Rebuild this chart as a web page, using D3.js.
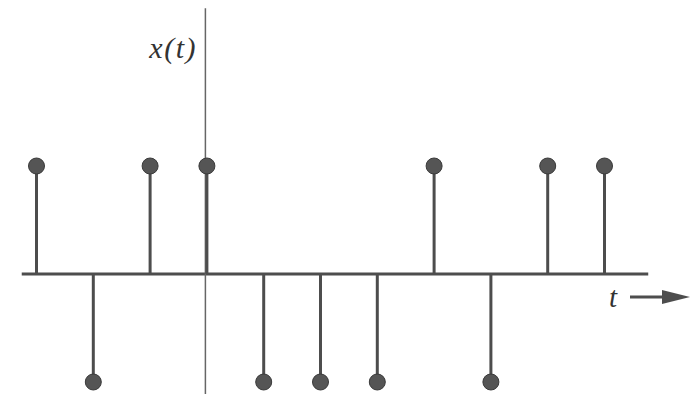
<!DOCTYPE html>
<html lang='en'>
<head>
    <title>Stem plot x(t)</title>
    <meta charset='UTF-8'>
    <script src='https://d3js.org/d3.v7.min.js'></script>
    <style>
      body { margin: 0; background: #fff; }
      svg { display: block; }
    </style>
</head>
<body>
<svg id='chart' width='698' height='394'></svg>

<script>
  // sample instants and values
  const times  = [-3, -2, -1, 0, 1, 2, 3, 4, 5, 6, 7]
  const values = [ 1, -1,  1, 1, -1, -1, -1, 1, -1, 1, 1]

  // extent of the drawn axes (in data units)
  const tRange = [-3.26, 7.77]
  const yRange = [-1.12, 2.46]

  const svg = d3.select('#chart')
  const ink = '#4d4d4d'
  const serif = "'Liberation Serif', 'Times New Roman', 'DejaVu Serif', serif"

  const x = d3.scaleLinear().domain([0, 7]).range([206.9, 604.5])
  const y = d3.scaleLinear().domain([-1, 1]).range([382, 166])

  // horizontal axis
  svg.append('line')
    .attr('x1', x(tRange[0])).attr('x2', x(tRange[1]))
    .attr('y1', y(0)).attr('y2', y(0))
    .attr('stroke', ink).attr('stroke-width', 3)

  // vertical axis
  svg.append('line')
    .attr('x1', x(0) - 1.5).attr('x2', x(0) - 1.5)
    .attr('y1', y(yRange[1])).attr('y2', y(yRange[0]))
    .attr('stroke', '#666').attr('stroke-width', 1.5)

  let data = times.map((t, i) => ({t: t, v: values[i]}))

  let stemG = svg.append('g').attr('id', 'stems')
    .selectAll('g')
    .data(data)
    .enter()
    .append('g')

  stemG.append('line')
    .attr('x1', d => x(d.t)).attr('x2', d => x(d.t))
    .attr('y1', y(0)).attr('y2', d => y(d.v))
    .attr('stroke', ink).attr('stroke-width', 3)

  stemG.append('circle')
    .attr('cx', d => x(d.t)).attr('cy', d => y(d.v))
    .attr('r', 8)
    .attr('fill', '#555').attr('stroke', '#3a3a3a').attr('stroke-width', 1)

  // labels
  svg.append('text')
    .attr('x', 197).attr('y', 58)
    .attr('text-anchor', 'end')
    .style('font-family', serif)
    .style('font-style', 'italic')
    .style('font-size', '30px')
    .style('letter-spacing', '1.5px')
    .attr('fill', '#333')
    .text('x(t)')

  svg.append('text')
    .attr('x', 609).attr('y', 307)
    .style('font-family', serif)
    .style('font-style', 'italic')
    .style('font-size', '29px')
    .attr('fill', '#333')
    .text('t')

  svg.append('line')
    .attr('x1', 630).attr('x2', 666)
    .attr('y1', 297).attr('y2', 297)
    .attr('stroke', ink).attr('stroke-width', 3)

  svg.append('path')
    .attr('d', 'M662,290 L690,297 L662,304 Z')
    .attr('fill', ink)
</script>
</body>
</html>
